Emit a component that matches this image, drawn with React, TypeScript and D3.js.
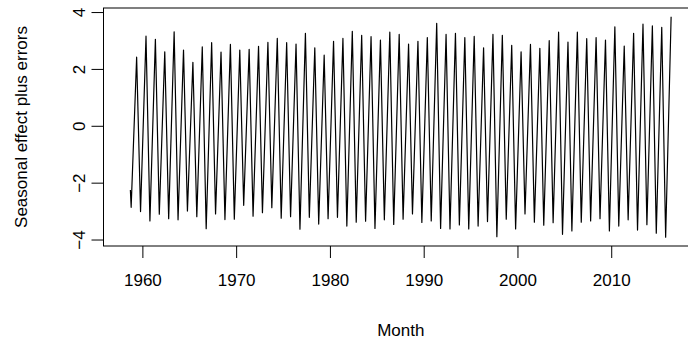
import React from 'react'
import * as d3 from 'd3'

// Seasonal component plus residuals.
// Series starts Sep 1958 (first 6 months are NA), then one May peak
// and one October trough per year.
const startTimes = [1958 + 8 / 12, 1958 + 9 / 12]
const startValues = [-2.24, -2.85]

const peakYears = d3.range(1959, 2017)
const peaks = [
  2.43, 3.17, 3.06, 2.62, 3.32, 2.68, 2.25, 2.79, 2.94, 2.61,
  2.88, 2.68, 2.71, 2.81, 2.95, 3.09, 2.94, 2.89, 3.27, 2.76,
  2.5, 2.99, 3.09, 3.34, 3.2, 3.15, 3.03, 3.31, 3.23, 2.89,
  2.99, 3.12, 3.62, 3.23, 3.27, 3.12, 3.16, 2.76, 3.23, 3.2,
  2.85, 2.62, 2.88, 2.74, 3.01, 3.31, 2.96, 3.31, 3.08, 3.12,
  3.03, 3.5, 2.82, 3.27, 3.59, 3.53, 3.48, 3.85,
]

const troughYears = d3.range(1959, 2016)
const troughs = [
  -3.0, -3.33, -3.09, -3.25, -3.29, -2.98, -3.18, -3.6, -3.08, -3.28,
  -3.27, -2.78, -3.16, -3.04, -2.86, -3.23, -3.18, -3.62, -3.2, -3.44,
  -3.25, -3.2, -3.51, -3.37, -3.34, -3.59, -3.29, -3.45, -3.27, -3.08,
  -3.38, -3.33, -3.59, -3.61, -3.47, -3.61, -3.51, -3.35, -3.88, -3.27,
  -3.61, -3.08, -3.37, -3.48, -3.39, -3.8, -3.68, -3.37, -3.33, -3.25,
  -3.68, -3.51, -3.29, -3.65, -3.46, -3.76, -3.9,
]

const xTicks = [1960, 1970, 1980, 1990, 2000, 2010]
const yTicks = [-4, -2, 0, 2, 4]

const W = 688
const H = 342
const FONT = "'Liberation Sans', Arial, Helvetica, sans-serif"

export default function App() {
  const x = d3.scaleLinear().domain([1955.8, 2019.2]).range([103.5, 698])
  const y = d3.scaleLinear().domain([-4.21, 4.16]).range([246, 8])

  const points: [number, number][] = startTimes.map((t, i) => [t, startValues[i]])
  peakYears.forEach((yr, i) => {
    points.push([yr + 4 / 12, peaks[i]])
    if (i < troughs.length) points.push([troughYears[i] + 9 / 12, troughs[i]])
  })

  const line = d3.line<[number, number]>().x((d) => x(d[0])).y((d) => y(d[1]))

  const [x0, x1] = x.range()
  const [yb, yt] = y.range()

  return (
    <svg width={W} height={H} style={{ position: 'fixed', left: 0, top: 0, background: '#fff' }} fontFamily={FONT}>
      <rect x={0} y={0} width={W} height={H} fill="#fff" />
      <path d={line(points) || ''} fill="none" stroke="#000" strokeWidth={1.2} strokeLinejoin="round" />
      <rect x={x0} y={yt} width={x1 - x0} height={yb - yt} fill="none" stroke="#000" strokeWidth={1} />

      {xTicks.map((t) => (
        <g key={t}>
          <line x1={x(t)} x2={x(t)} y1={yb} y2={yb + 12} stroke="#000" strokeWidth={1} />
          <text x={x(t)} y={yb + 40} textAnchor="middle" fontSize={17} fill="#000">{t}</text>
        </g>
      ))}

      {yTicks.map((t) => (
        <g key={t}>
          <line x1={x0 - 12} x2={x0} y1={y(t)} y2={y(t)} stroke="#000" strokeWidth={1} />
          <text
            transform={`translate(${x0 - 19},${y(t)}) rotate(-90)`}
            textAnchor="middle"
            fontSize={17}
            fill="#000"
          >
            {t < 0 ? `\u2212${Math.abs(t)}` : t}
          </text>
        </g>
      ))}

      <text x={(x0 + x1) / 2} y={336} textAnchor="middle" fontSize={17} fill="#000">Month</text>
      <text
        transform={`translate(27,${(yt + yb) / 2}) rotate(-90)`}
        textAnchor="middle"
        fontSize={17}
        fill="#000"
      >
        Seasonal effect plus errors
      </text>
    </svg>
  )
}
